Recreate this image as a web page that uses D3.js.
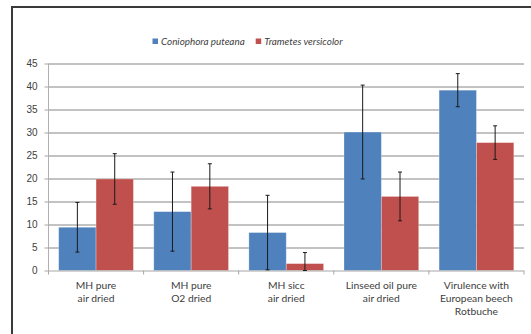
<!DOCTYPE html>
<html>
<head>
<meta charset="utf-8">
<script src="https://cdn.jsdelivr.net/npm/d3@7"></script>
<style>
  body { margin: 0; background: #fff; }
  svg { display: block; font-family: Lato, "Open Sans", sans-serif; }
</style>
</head>
<body>
<script>
// chart data
var categories = [
    ["MH pure", "air dried"],
    ["MH pure", "O2 dried"],
    ["MH sicc", "air dried"],
    ["Linseed oil pure", "air dried"],
    ["Virulence with", "European beech", "Rotbuche"]
];
var seriesNames = ["Coniophora puteana", "Trametes versicolor"];
var coniophora = [9.4, 12.8, 8.25, 30.1, 39.2];
var coniophoraErr = [5.4, 8.6, 8.1, 10.2, 3.6];
var trametes = [19.9, 18.3, 1.5, 16.1, 27.8];
var trametesErr = [5.5, 4.9, 2.4, 5.3, 3.65];
var yTicks = [0, 5, 10, 15, 20, 25, 30, 35, 40, 45];

var colors = ["#4F81BD", "#C0504D"];

var W = 531, H = 334;
var margin = { top: 63.5, left: 48.5, right: 7, bottom: 63.5 };
var width = W - margin.left - margin.right;
var height = H - margin.top - margin.bottom;

var svg = d3.select("body").append("svg")
    .attr("width", W)
    .attr("height", H);

// outer chart border (only top and left visible in the frame)
svg.append("rect")
    .attr("x", 12)
    .attr("y", 7)
    .attr("width", W + 20)
    .attr("height", H + 20)
    .attr("fill", "none")
    .attr("stroke", "#3a3a3a")
    .attr("stroke-width", 2);

var g = svg.append("g")
    .attr("transform", "translate(" + margin.left + "," + margin.top + ")");

var x0 = d3.scaleBand()
    .domain(d3.range(categories.length))
    .range([0, width]);

// excel gap width of about 75%
var x1 = d3.scaleBand()
    .domain([0, 1])
    .range([0, x0.bandwidth()])
    .paddingOuter(0.75 / 2 / (1 + 0.75 / 2))
    .paddingInner(0);

var y = d3.scaleLinear()
    .domain([0, 45])
    .range([height, 0]);

// gridlines
g.append("g")
    .selectAll("line")
    .data(yTicks.slice(1))
    .join("line")
    .attr("x1", 0)
    .attr("x2", width)
    .attr("y1", function (d) { return Math.round(y(d)) + 0.5; })
    .attr("y2", function (d) { return Math.round(y(d)) + 0.5; })
    .attr("stroke", "#868686")
    .attr("stroke-width", 1);

// y axis
var yAxis = d3.axisLeft(y).tickValues(yTicks).tickSize(4).tickPadding(7);
var yg = g.append("g").call(yAxis);
yg.select(".domain").attr("stroke", "#b0b0b0").attr("d", "M0,0V" + height);
yg.selectAll(".tick line").attr("stroke", "#a6a6a6");
yg.selectAll(".tick text")
    .attr("fill", "#404040")
    .style("font-size", "10px");

// bars
var series = [
    { vals: coniophora, errs: coniophoraErr },
    { vals: trametes, errs: trametesErr }
];

series.forEach(function (s, si) {
    var sg = g.append("g");
    sg.selectAll("rect")
        .data(s.vals)
        .join("rect")
        .attr("x", function (d, i) { return x0(i) + x1(si); })
        .attr("width", x1.bandwidth())
        .attr("y", function (d) { return y(d); })
        .attr("height", function (d) { return y(0) - y(d); })
        .attr("fill", colors[si])
        .attr("stroke", "rgba(255,255,255,0.35)")
        .attr("stroke-width", 0.8);
});

// x axis line and ticks
var xg = g.append("g").attr("transform", "translate(0," + height + ")");
xg.append("line")
    .attr("x1", 0).attr("x2", width)
    .attr("y1", 0.5).attr("y2", 0.5)
    .attr("stroke", "#a6a6a6");
xg.selectAll("line.tk")
    .data(d3.range(categories.length + 1))
    .join("line")
    .attr("class", "tk")
    .attr("x1", function (d) { return d * x0.step(); })
    .attr("x2", function (d) { return d * x0.step(); })
    .attr("y1", 0).attr("y2", 4)
    .attr("stroke", "#a6a6a6");

// error bars
series.forEach(function (s, si) {
    var eg = g.append("g").attr("stroke", "#1a1a1a").attr("stroke-width", 1);
    s.vals.forEach(function (v, i) {
        var cx = x0(i) + x1(si) + x1.bandwidth() / 2;
        var lo = Math.max(0, v - s.errs[i]);
        var hi = v + s.errs[i];
        eg.append("line")
            .attr("x1", cx).attr("x2", cx)
            .attr("y1", y(hi)).attr("y2", y(lo));
        [hi, lo].forEach(function (e) {
            eg.append("line")
                .attr("x1", cx - 2).attr("x2", cx + 2)
                .attr("y1", y(e)).attr("y2", y(e));
        });
    });
});

// category labels
var labels = g.append("g")
    .attr("fill", "#404040")
    .style("font-size", "10.3px")
    .attr("text-anchor", "middle");
categories.forEach(function (lines, i) {
    var t = labels.append("text")
        .attr("x", x0(i) + x0.bandwidth() / 2)
        .attr("y", height + 18);
    lines.forEach(function (line, li) {
        t.append("tspan")
            .attr("x", x0(i) + x0.bandwidth() / 2)
            .attr("dy", li === 0 ? 0 : 13)
            .text(line);
    });
});

// legend
var legend = svg.append("g")
    .attr("transform", "translate(152.5,38.5)");
var lx = 0;
seriesNames.forEach(function (name, i) {
    var item = legend.append("g").attr("transform", "translate(" + lx + ",0)");
    item.append("rect")
        .attr("width", 5.5).attr("height", 5.5)
        .attr("fill", colors[i]);
    var txt = item.append("text")
        .attr("x", 8.5)
        .attr("y", 6)
        .attr("fill", "#404040")
        .style("font-size", "9.9px")
        .style("font-style", "italic")
        .text(name);
    lx += 8.5 + txt.node().getComputedTextLength() + 11;
});
</script>
</body>
</html>
